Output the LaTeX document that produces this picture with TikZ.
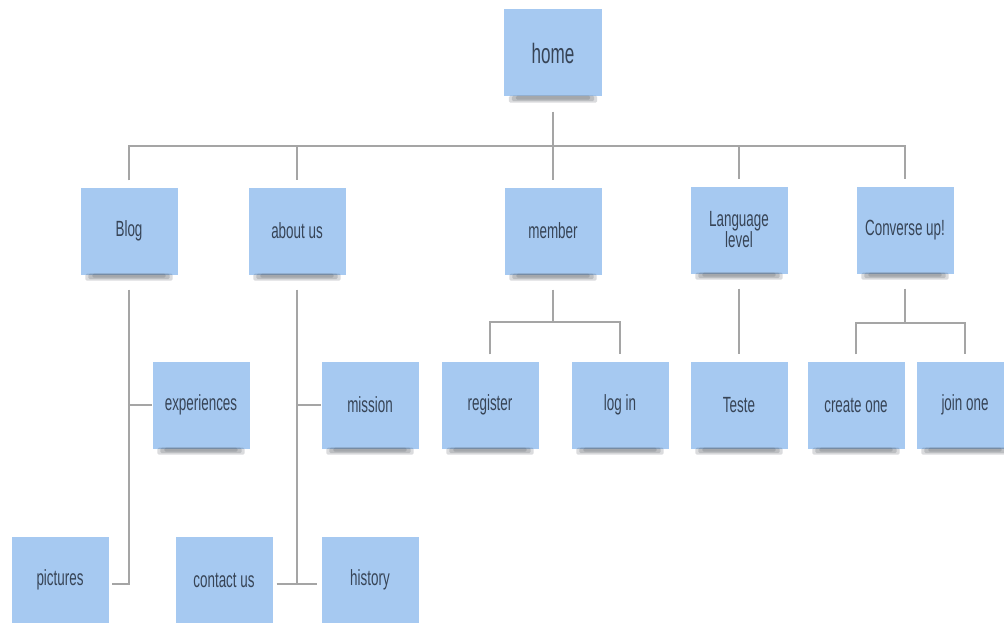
\documentclass[tikz,border=0pt]{standalone}
\usepackage{fontspec}
\usepackage{xcolor}
\usepackage{tikz}
\newfontfamily\notefont[FakeStretch=0.61]{Liberation Sans}
\definecolor{NoteBlue}{RGB}{166,201,241}
\definecolor{NoteText}{RGB}{55,68,86}
\definecolor{LinkGray}{RGB}{165,165,165}
\definecolor{NoteShadow}{RGB}{70,75,85}

\begin{document}
\begin{tikzpicture}[x=1pt,y=-1pt,
    note/.style={fill=NoteBlue, draw=none, minimum width=97pt, minimum height=87pt,
        inner sep=0pt, align=center, text=NoteText,
        font=\notefont\fontsize{22}{21}\selectfont},
    noteshade/.style={fill=NoteShadow, fill opacity=0.2, rounded corners=1.5pt},
    link/.style={draw=LinkGray, line width=1.2pt}]
    \useasboundingbox[fill=white] (0,0) rectangle (1004,623);

    % top
    \node[note, minimum width=98pt, font=\notefont\fontsize{28}{28}\selectfont] (home) at (553,53) {home};

    % first row
    \node[note] (blog) at (129,231) {Blog};
    \node[note] (about) at (297,231) {about us};
    \node[note] (member) at (553,231) {member};
    \node[note] (lang) at (739,230) {Language\\level};
    \node[note] (conv) at (905,230) {Converse up!};

    % second row
    \node[note] (exper) at (201,405) {experiences};
    \node[note] (mission) at (370,405) {mission};
    \node[note] (register) at (490,405) {register};
    \node[note] (login) at (620,405) {log in};
    \node[note] (teste) at (739,405) {Teste};
    \node[note] (create) at (856,405) {create one};
    \node[note] (join) at (965,405) {join one};

    % third row
    \node[note] (pictures) at (60,580) {pictures};
    \node[note] (contact) at (224,580) {contact us};
    \node[note] (history) at (370,580) {history};

    % shadows under the notes
    \foreach \n in {home,blog,about,member,lang,conv,exper,mission,register,login,teste,create,join}
        \foreach \d/\s in {5/6, 8/4.5, 12/3}
            \fill[noteshade] ([xshift=\d pt,yshift=1pt]\n.south west) rectangle ([xshift=-\d pt,yshift=-\s pt]\n.south east);

    \coordinate (trunk) at (553,146);
    \coordinate (membsplit) at (553,322);
    \coordinate (convsplit) at (905,323);
    \coordinate (blogend) at (129,584);
    \coordinate (aboutend) at (297,584);

    % home to first row
    \draw[link] ([yshift=-15pt]home.south) -- (trunk);
    \draw[link] ([yshift=7pt]blog.north) |- (trunk) -| ([yshift=7pt]conv.north);
    \foreach \n in {about,member,lang}
        \draw[link] (trunk -| \n.north) -- ([yshift=7pt]\n.north);

    % Blog
    \draw[link] ([yshift=-15pt]blog.south) -- (blogend) -- ([xshift=3pt]pictures.east |- blogend);
    \draw[link] (blog.south |- exper.west) -- (exper.west);

    % about us
    \draw[link] ([yshift=-15pt]about.south) -- (aboutend);
    \draw[link] (about.south |- mission.west) -- (mission.west);
    \draw[link] ([xshift=4pt]contact.east |- aboutend) -- ([xshift=-4pt]history.west |- aboutend);

    % member
    \draw[link] ([yshift=-15pt]member.south) -- (membsplit);
    \draw[link] ([yshift=7pt]register.north) |- (membsplit) -| ([yshift=7pt]login.north);

    % Language level
    \draw[link] ([yshift=-15pt]lang.south) -- ([yshift=7pt]teste.north);

    % Converse up!
    \draw[link] ([yshift=-15pt]conv.south) -- (convsplit);
    \draw[link] ([yshift=7pt]create.north) |- (convsplit) -| ([yshift=7pt]join.north);
\end{tikzpicture}
\end{document}
